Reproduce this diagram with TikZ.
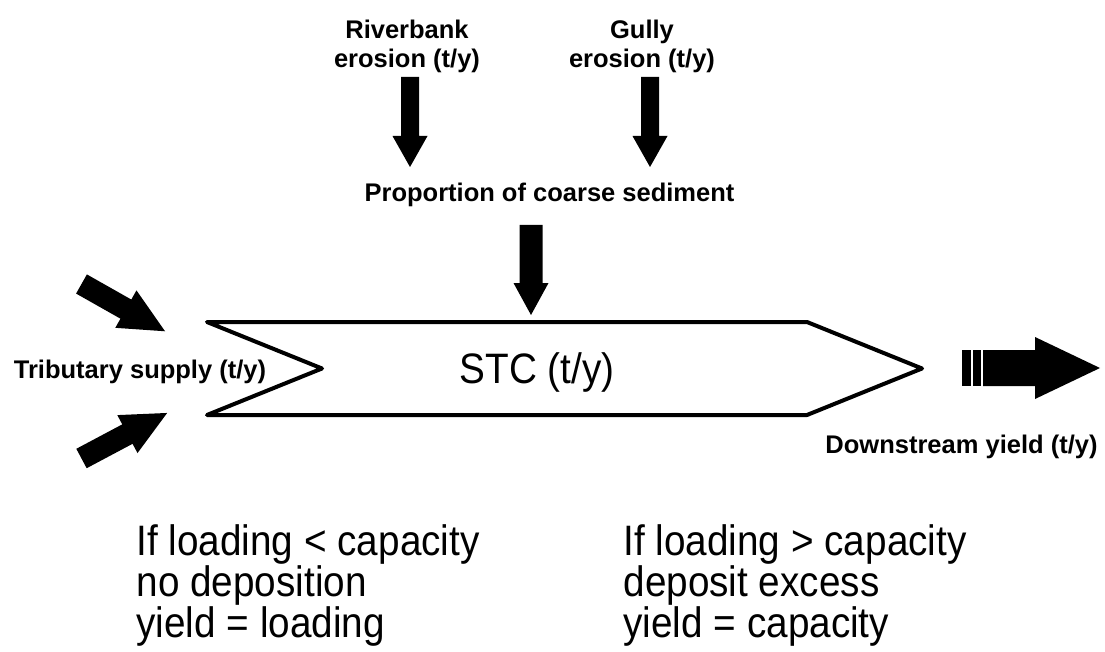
\documentclass[tikz,border=0pt]{standalone}
\usepackage{fontspec}
\setmainfont{Liberation Sans}
\newcommand\blkarrow[7]{% x, y, angle, length, shaft width, head width, head length
  \fill[black, shift={(#1,#2)}, rotate=#3]
    (0,{-#5/2}) -- ({#4-#7},{-#5/2}) -- ({#4-#7},{-#6/2}) -- (#4,0) --
    ({#4-#7},{#6/2}) -- ({#4-#7},{#5/2}) -- (0,{#5/2}) -- cycle;}
\tikzset{
  lbl/.style={font=\fontsize{25.5}{29}\selectfont\bfseries, inner sep=0pt, align=center},
  big/.style={font=\fontsize{38.7}{37.3}\selectfont, inner sep=0pt, align=left, transform shape},
  chev/.style={draw=black, line width=4pt, line join=round, fill=white}
}
\begin{document}
\begin{tikzpicture}[x=1pt,y=-1pt]
\useasboundingbox (0,0) rectangle (1105,652);

% top labels
\node[lbl, anchor=north] (rb) at (407,20) {Riverbank\\erosion (t/y)};
\node[lbl, anchor=north] (gu) at (642,20) {Gully\\erosion (t/y)};
\node[lbl, anchor=base] (prop) at (549.5,202) {Proportion of coarse sediment};

% vertical block arrows
\blkarrow{410}{77}{-90}{90}{18}{35}{31}
\blkarrow{650}{77}{-90}{90}{18}{35}{31}
\blkarrow{531}{225}{-90}{90}{23}{35}{32}

% chevron
\draw[chev] (207,322) -- (807,322) -- (922,368.5) -- (807,415) -- (207,415) -- (322,368.5) -- cycle;
\begin{scope}[shift={(537,383)}, yscale=1.1]
  \node[font=\fontsize{38.7}{40}\selectfont, inner sep=0pt, anchor=base, transform shape] (stc) at (0,0) {STC (t/y)};
\end{scope}

% tributary arrows
\blkarrow{81.5}{284}{-29.5}{96}{22}{43}{45}
\blkarrow{81.5}{458.5}{28}{97}{22}{43}{45}
\node[lbl, anchor=base] (trib) at (140,378) {Tributary supply (t/y)};

% striped outlet arrow
\fill[black] (962,350) rectangle (971,386);
\fill[black] (972.5,350) rectangle (981,386);
\fill[black] (983,350) -- (1035,350) -- (1035,337) -- (1100,368) -- (1035,399) -- (1035,386) -- (983,386) -- cycle;
\node[lbl, anchor=base] (down) at (961.5,453) {Downstream yield (t/y)};

% bottom conditions
\begin{scope}[shift={(136.3,524)}, yscale=1.1]
  \node[big, anchor=north west] (lo) at (0,0) {If loading < capacity\\no deposition\\yield = loading};
\end{scope}
\begin{scope}[shift={(623.3,524)}, yscale=1.1]
  \node[big, anchor=north west] (hi) at (0,0) {If loading > capacity\\deposit excess\\yield = capacity};
\end{scope}
\end{tikzpicture}
\end{document}
